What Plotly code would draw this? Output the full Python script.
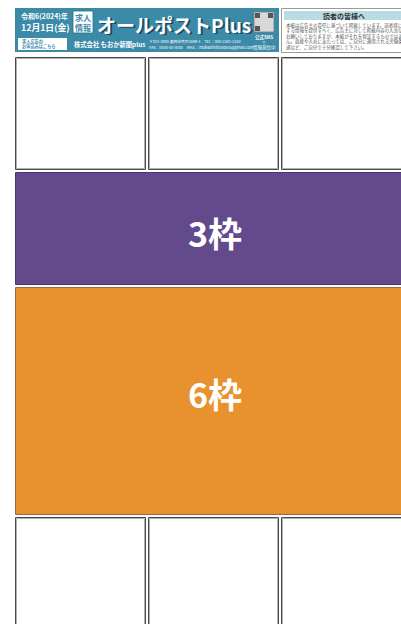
import plotly.graph_objects as go

# ---------------- data ----------------
slot_labels = ["", "", "", "3枠", "6枠", "", "", ""]
slot_cols = [0, 1, 2, 0, 0, 0, 1, 2]
slot_rows = [0, 0, 0, 1, 2, 4, 4, 4]
slot_colspans = [1, 1, 1, 3, 3, 1, 1, 1]
slot_rowspans = [1, 1, 1, 1, 2, 1, 1, 1]

header_date = ["令和6(2024)年", "12月1日(金)"]
header_title = "オールポストPlus"
header_badge = ["求人", "情報"]
header_company = "株式会社 もおか新聞plus"
header_apply = ["求人広告の", "お申込みはこちら"]
header_contact = ["〒321-4305 真岡市荒町1699-1　TEL：080-2581-3330",
                  "FAX：0000-00-0000　MAIL：mokashinbunplus@gmail.com"]
header_sns = ["公式SNS", "で", "情報発信中"]
notice_title = "読者の皆様へ"
notice_lines = [
    "本紙は広告主の責任に基づいて掲載しています。読者様に関",
    "する情報を提供すべく、広告主に対して掲載内容の入念な確認",
    "お願いしておりますが、本紙がそれを保証するものではありませ",
    "ん。面接や入社にあたっては、ご自分に適用される労働条件",
    "通など、ご自分で十分確認して下さい。",
]

# ---------------- styles ----------------
W, H = 401, 624
X0, Y0, PX, PY, GAP = 15, 57, 133, 115, 2
TEAL = "#3b8aa8"
fills = {"3枠": ("#634a8c", "#4a3570"), "6枠": ("#e8912f", "#9a6a3a")}
JP = "Noto Sans CJK JP"

fig = go.Figure()
shapes = []
ann = []

def rect(x0, y0, x1, y1, fill, line="rgba(0,0,0,0)", lw=0):
    shapes.append(dict(type="rect", xref="x", yref="y", x0=x0, y0=y0, x1=x1, y1=y1,
                       fillcolor=fill, line=dict(color=line, width=lw), layer="above"))

def text(x, y, t, size, color, xa="left", family=JP, weight="normal"):
    ann.append(dict(x=x, y=y, xref="x", yref="y", text=t, showarrow=False,
                    xanchor=xa, yanchor="middle",
                    font=dict(size=size, color=color, family=family, weight=weight)))

# slots
for lab, c, r, cs, rs in zip(slot_labels, slot_cols, slot_rows, slot_colspans, slot_rowspans):
    x0 = X0 + c * PX
    x1 = X0 + (c + cs) * PX - GAP
    y0 = Y0 + r * PY
    y1 = Y0 + (r + rs) * PY - GAP
    if lab in fills:
        f, ln = fills[lab]
        rect(x0 + 0.5, y0 + 0.5, x1 - 0.5, y1 - 0.5, f, ln, 1)
        text((x0 + x1) / 2 + 1, (y0 + y1) / 2 + (4 if rs == 1 else -8), lab, 34, "white",
             xa="center", weight="bold")
    else:
        rect(x0 + 0.5, y0 + 0.5, x1 - 0.5, y1 - 0.5, "white", "#4a4a4a", 1)
        rect(x0 + 1.5, y0 + 1.5, x1 - 1.5, y1 - 1.5, "rgba(0,0,0,0)", "#b0b0b0", 1)

# header band
rect(15, 8, 279, 52, TEAL)
text(19, 16, header_date[0], 7, "white", weight="bold")
text(19, 27, header_date[1], 8.8, "white", weight="bold")
rect(73, 11, 93, 33, "white", "#2b6f88", 0.8)
text(83, 17, header_badge[0], 8, TEAL, xa="center", weight="bold")
text(83, 27, header_badge[1], 8, TEAL, xa="center", weight="bold")
text(96.5, 25.5, header_title, 19, "#1d4a5c", weight="bold")
text(95, 24, header_title, 19, "white", weight="bold")
# QR code
rect(254, 12, 274, 32, "#d8d8d8", "#7a7a7a", 0.8)
for qx, qy in [(255, 13), (268, 13), (255, 26)]:
    rect(qx, qy, qx + 5, qy + 5, "#555555")
text(264, 37, header_sns[0], 4.5, "white", xa="center", weight="bold")
text(264, 42, header_sns[1], 3.5, "white", xa="center")
text(264, 47, header_sns[2], 4.5, "white", xa="center")
# apply box
rect(18, 38, 67, 50, "white")
text(20, 41.5, header_apply[0], 4.2, TEAL, weight="bold")
text(20, 46.5, header_apply[1], 4.2, TEAL, weight="bold")
text(72, 44, header_company, 6.3, "white", weight="bold")
text(147, 41, header_contact[0], 3.8, "white")
text(147, 47, header_contact[1], 3.8, "white")

# notice box
rect(281.5, 8.5, 420, 52.5, "white", "#9a9a9a", 1)
rect(284, 11, 420, 20, "#b9dce3")
text(344, 15.5, notice_title, 7, "#333333", xa="center", weight="bold")
for i, ln in enumerate(notice_lines):
    text(284, 25 + i * 5.6, ln, 4.5, "#555555")

fig.update_layout(
    width=W, height=H,
    margin=dict(l=0, r=0, t=0, b=0),
    paper_bgcolor="white", plot_bgcolor="white",
    xaxis=dict(range=[0, W], visible=False, fixedrange=True),
    yaxis=dict(range=[H, 0], visible=False, fixedrange=True),
    shapes=shapes, annotations=ann, showlegend=False,
)
fig.write_html("out.html", config={"displayModeBar": False},
               post_script="document.body.style.margin='0';document.body.style.overflow='hidden';")
